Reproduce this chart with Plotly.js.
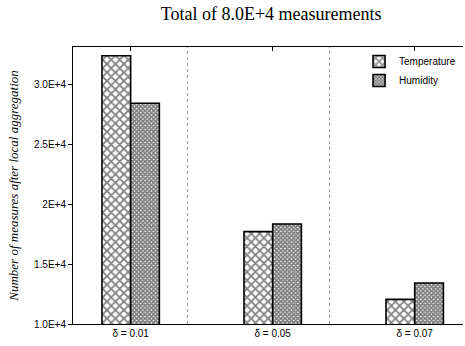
<!DOCTYPE html>
<html>
<head>
<meta charset="utf-8">
<script src="https://cdn.plot.ly/plotly-3.0.1.min.js"></script>
<style>html,body{margin:0;padding:0;background:#fff;}#chart{width:465px;height:346px;}</style>
</head>
<body>
<div id="chart"></div>
<script>
const categories = ["δ = 0.01", "δ = 0.05", "δ = 0.07"];
const temperature = [32350, 17700, 12050];
const humidity = [28400, 18330, 13420];
const seriesNames = ["Temperature", "Humidity"];
const yTickVals = [10000, 15000, 20000, 25000, 30000];
const yTickText = ["1.0E+4", "1.5E+4", "2E+4", "2.5E+4", "3.0E+4"];
const separators = [0.4, 1.4];

const xIdx = categories.map((_, i) => i);

const traces = [
  {
    type: "bar", name: seriesNames[0], x: xIdx, y: temperature,
    marker: {color: "white", line: {color: "black", width: 1.6},
      pattern: {shape: "x", size: 6, solidity: 0.5, fgcolor: "black", bgcolor: "white", fillmode: "overlay"}}
  },
  {
    type: "bar", name: seriesNames[1], x: xIdx, y: humidity,
    marker: {color: "white", line: {color: "black", width: 1.6},
      pattern: {shape: "x", size: 3, solidity: 0.8, fgcolor: "black", bgcolor: "white", fillmode: "overlay"}}
  }
];

const shapes = separators.map(s => ({
  type: "line", xref: "x", yref: "paper", x0: s, x1: s, y0: 0, y1: 1,
  line: {color: "#999", width: 1, dash: "dot"}, layer: "below"
}));

const layout = {
  width: 465, height: 346,
  margin: {l: 73, r: 2, t: 47, b: 22},
  paper_bgcolor: "white", plot_bgcolor: "white",
  barmode: "group", bargap: 0.596, bargroupgap: 0,
  showlegend: true,
  legend: {x: 0.995, xanchor: "right", y: 1.0, yanchor: "top",
    font: {family: "Liberation Sans, Arial, sans-serif", size: 10, color: "black"},
    bgcolor: "rgba(0,0,0,0)", tracegroupgap: 0, itemwidth: 30},
  title: {text: "Total of 8.0E+4 measurements", x: 0.583, xanchor: "center", y: 0.96, yanchor: "middle",
    font: {family: "Liberation Serif, Times New Roman, serif", size: 18, color: "black"}},
  xaxis: {
    range: [-0.406, 2.34], tickvals: xIdx, ticktext: categories,
    ticks: "inside", ticklen: 4, tickcolor: "black", showline: true, linecolor: "black", linewidth: 1,
    mirror: "ticks", showgrid: false, zeroline: false,
    tickfont: {family: "Liberation Sans, Arial, sans-serif", size: 10, color: "black"}
  },
  yaxis: {
    range: [10000, 33083], tickvals: yTickVals, ticktext: yTickText,
    ticks: "outside", ticklen: 4, tickcolor: "black", showline: true, linecolor: "black", linewidth: 1,
    showgrid: false, zeroline: false,
    tickfont: {family: "Liberation Sans, Arial, sans-serif", size: 10, color: "black"},
    title: {text: "<i>Number of measures after local aggregation</i>", standoff: 12,
      font: {family: "Liberation Serif, Times New Roman, serif", size: 13, color: "black"}}
  },
  shapes: shapes
};

Plotly.newPlot("chart", traces, layout, {displayModeBar: false, staticPlot: true});
</script>
</body>
</html>
